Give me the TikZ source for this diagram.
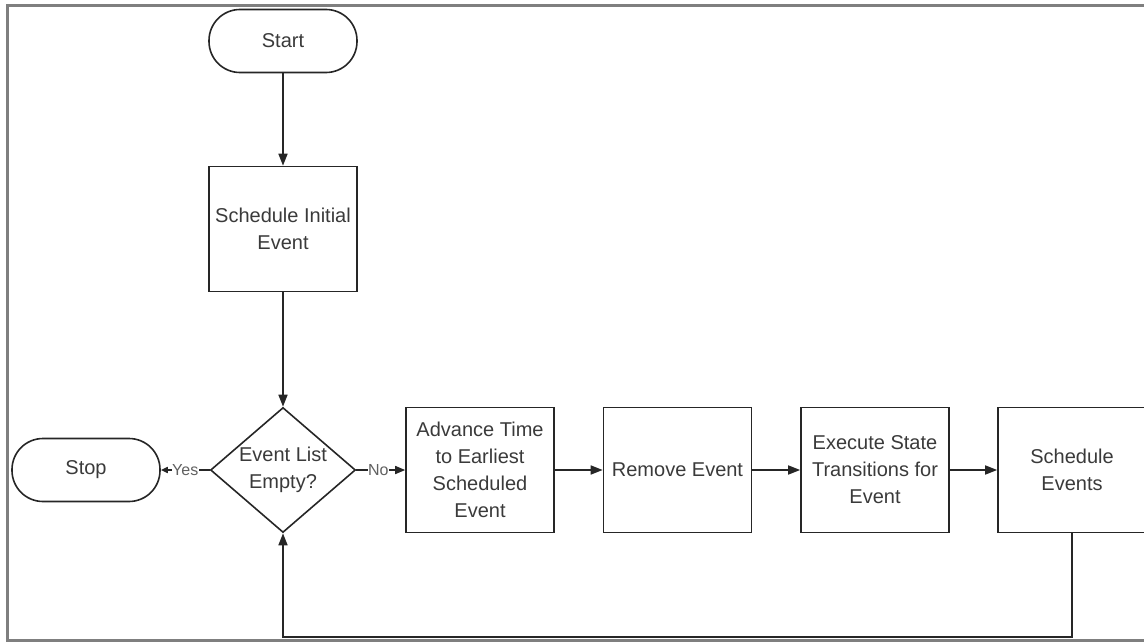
\documentclass[tikz,border=0pt]{standalone}
\usepackage{fontspec}
\setmainfont{Liberation Sans}
\usetikzlibrary{shapes.geometric,arrows.meta}
\definecolor{ink}{HTML}{262626}
\definecolor{txt}{HTML}{3A3A3A}
\definecolor{framegray}{HTML}{7F7F7F}
\begin{document}
\begin{tikzpicture}[x=1pt,y=-1pt,
  every node/.style={text=txt},
  boxstyle/.style={draw=ink, line width=1.6pt, rectangle, inner sep=0pt,
    minimum width=148pt, minimum height=125pt, align=center,
    font=\fontsize{20}{27}\selectfont},
  termstyle/.style={draw=ink, line width=1.6pt, rectangle, rounded corners=31pt,
    inner sep=0pt, minimum width=148pt, minimum height=63pt,
    font=\fontsize{20}{27}\selectfont},
  decstyle/.style={draw=ink, line width=1.6pt, diamond, inner sep=0pt,
    minimum width=145pt, minimum height=125pt},
  lbl/.style={fill=white, inner sep=0.5pt, text=txt!80, font=\fontsize{16}{18}\selectfont},
  flow/.style={draw=ink, line width=1.6pt, -{Triangle[length=12pt,width=9pt]}},
  flowno/.style={draw=ink, line width=1.6pt, -{Triangle[length=10pt,width=8pt]}},
  flowyes/.style={draw=ink, line width=1.6pt, -{Triangle[length=7pt,width=6pt]}}]
\useasboundingbox (0,0) rectangle (1144,642);
\clip (0,0) rectangle (1144,642);

% outer frame
\draw[framegray, line width=3pt] (1160,5.5) -- (7.5,5.5) -- (7.5,640) -- (1160,640);

% shapes
\node[termstyle] (start) at (283,41) {Start};
\node[boxstyle] (init) at (283,229) {Schedule Initial\\Event};
\node[decstyle] (test) at (283,470) {};
\node[align=center, font=\fontsize{20}{27}\selectfont] (testtxt) at (283,470) {Event List\\Empty?};
\node[termstyle] (stop) at (86,470) {Stop};
\node[boxstyle] (adv) at (480,470) {Advance Time\\to Earliest\\Scheduled\\Event};
\node[boxstyle] (rem) at (677.5,470) {Remove Event};
\node[boxstyle] (exe) at (875,470) {Execute State\\Transitions for\\Event};
\node[boxstyle] (sch) at (1072,470) {Schedule\\Events};
\coordinate (loopcorner) at (1072,637);

% connectors
\draw[flowyes] (test.west) -- node[lbl, pos=0.5] {Yes} (stop.east);
\draw[flowno] (test.east) -- node[lbl, pos=0.45] {No} (adv.west);
\draw[flow] (start) -- (init);
\draw[flow] (init) -- (test.north);
\draw[flow] (adv) -- (rem);
\draw[flow] (rem) -- (exe);
\draw[flow] (exe) -- (sch);
\draw[flow] (sch.south) -- (loopcorner) -| (test.south);
\end{tikzpicture}
\end{document}
